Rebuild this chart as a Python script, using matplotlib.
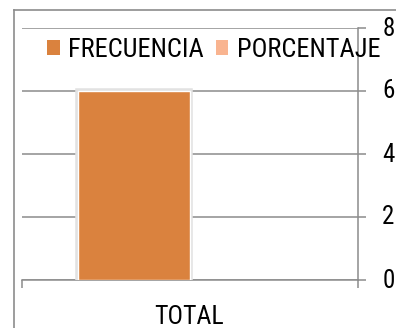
import matplotlib
matplotlib.use("Agg")
import matplotlib.pyplot as plt
import matplotlib.patheffects as pe
from matplotlib import font_manager
from matplotlib.transforms import ScaledTranslation
import numpy as np

categories = ["TOTAL"]
series_names = ["FRECUENCIA", "PORCENTAJE"]
frecuencia = [6]
porcentaje = [0]
y_ticks = [0, 2, 4, 6, 8]

colors = ["#DA823E", "#F9B490"]
grid_color = "#8C8C8C"

names = {f.name for f in font_manager.fontManager.ttflist}
family = next(n for n in ["Liberation Sans Narrow", "Roboto Condensed", "PT Sans Narrow", "Liberation Sans"] if n in names)
plt.rcParams["font.family"] = [family, "DejaVu Sans"]
FS = 18

W, H = 396, 328
fig = plt.figure(figsize=(W / 100, H / 100), dpi=100)

# outer chart frame
fig.add_artist(plt.Line2D([14 / W, 14 / W], [0, 1 - 10 / H], color=grid_color, lw=1.2))
fig.add_artist(plt.Line2D([14 / W, 1], [1 - 10 / H, 1 - 10 / H], color=grid_color, lw=1.2))

ax = fig.add_axes([22 / W, 48 / H, 336 / W, 252 / H])
x = np.arange(len(categories))
width = 1 / 3
bars = ax.bar(x - width / 2, frecuencia, width, color=colors[0], edgecolor="white",
              linewidth=1.0, label=series_names[0], zorder=3)
for b in bars:
    b.set_path_effects([pe.Stroke(linewidth=4, foreground="#e2e2e2"), pe.Normal()])
ax.bar(x + width / 2, porcentaje, width, color=colors[1], linewidth=0,
       label=series_names[1], zorder=3)

ax.set_xlim(-0.5, 0.5)
ax.set_ylim(0, 8)
ax.set_yticks(y_ticks)
ax.yaxis.tick_right()
ax.tick_params(axis="y", length=5.5, width=1.1, color=grid_color, labelsize=FS, pad=12)
# value labels sit slightly above their gridlines
lift = ScaledTranslation(0, 2 / 100, fig.dpi_scale_trans)
for lbl in ax.get_yticklabels():
    lbl.set_transform(lbl.get_transform() + lift)
ax.set_xticks([-0.5, 0.5])
ax.set_xticklabels([])
ax.tick_params(axis="x", length=5.5, width=1.1, color=grid_color)
fig.text(189 / W, 1 - 324 / H, categories[0], ha="center", va="baseline", fontsize=18.5)

for s in ["top", "left"]:
    ax.spines[s].set_visible(False)
for s in ["right", "bottom"]:
    ax.spines[s].set_color(grid_color)
    ax.spines[s].set_linewidth(1.1)
ax.grid(axis="y", color=grid_color, linewidth=1.1, zorder=0)
ax.set_axisbelow(True)

# legend squares drawn without the bar outline
legend_handles = [plt.Rectangle((0, 0), 1, 1, facecolor=c, edgecolor="none") for c in colors]
leg = fig.legend(legend_handles, series_names, loc="center left",
                 bbox_to_anchor=(47 / W, 1 - 50 / H), ncol=2, frameon=False,
                 fontsize=19, handlelength=0.48, handleheight=0.48, handletextpad=0.32,
                 columnspacing=0.45, borderpad=0, borderaxespad=0)

fig.savefig("out.png", dpi=100)
